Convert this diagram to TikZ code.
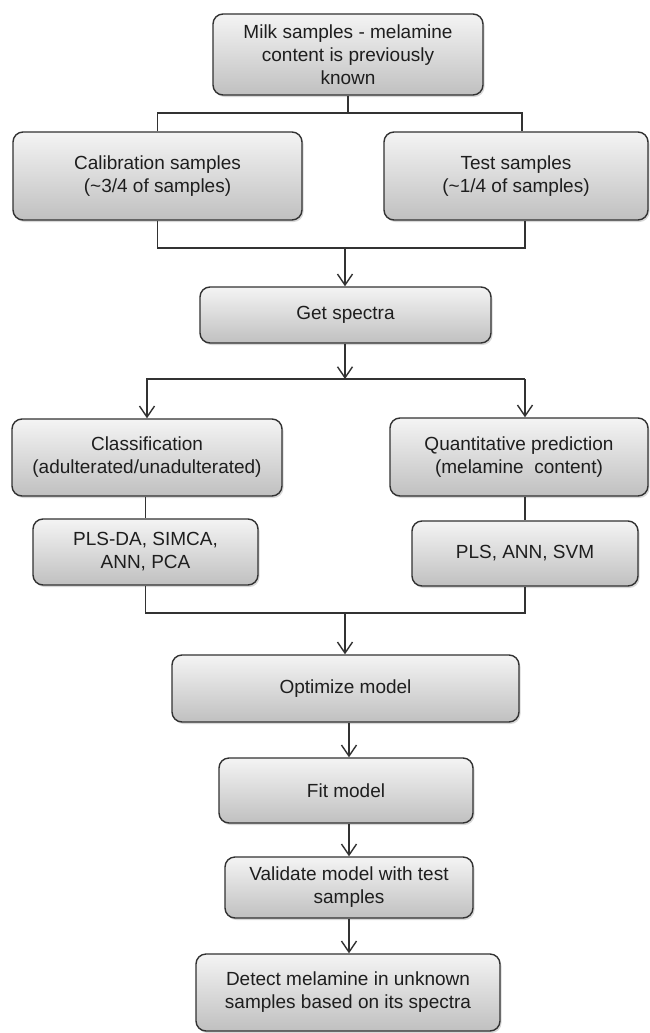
\documentclass[tikz,border=0pt]{standalone}
\usepackage{fontspec}
\setmainfont{Liberation Sans}
\usetikzlibrary{arrows.meta,shadows,calc}
\definecolor{boxtop}{RGB}{244,244,244}
\definecolor{boxbot}{RGB}{192,192,192}
\definecolor{edge}{RGB}{50,50,50}
\definecolor{ink}{RGB}{30,30,30}
\begin{document}
\begin{tikzpicture}[x=1pt,y=1pt,
  box/.style={draw=edge, line width=1.4pt, rounded corners=10pt,
    top color=boxtop, bottom color=boxbot, align=center, text=ink,
    font=\fontsize{19}{23}\selectfont, inner sep=0pt,
    drop shadow={shadow xshift=1.5pt, shadow yshift=-2pt, opacity=0.3}},
  con/.style={draw=edge, line width=1.4pt},
  arr/.style={con, -{Straight Barb[length=11pt,width=15pt]}}
]
\useasboundingbox[fill=white] (0,0) rectangle (649,-1033);

\node[box, minimum width=270pt, minimum height=81pt] (top) at (348,-54.5)
  {Milk samples - melamine\\content is previously\\known};
\node[box, minimum width=289pt, minimum height=88pt] (cal) at (157.5,-176)
  {Calibration samples\\(\textasciitilde3/4 of samples)};
\node[box, minimum width=264pt, minimum height=88pt] (tst) at (516,-176)
  {Test samples\\(\textasciitilde1/4 of samples)};
\node[box, minimum width=291pt, minimum height=56pt] (spec) at (345.5,-315)
  {Get spectra};
\node[box, minimum width=270pt, minimum height=77pt] (class) at (147,-457.5)
  {Classification\\(adulterated/unadulterated)};
\node[box, minimum width=258pt, minimum height=78pt] (quant) at (519,-457)
  {Quantitative prediction\\(melamine\ \ content)};
\node[box, minimum width=225pt, minimum height=66pt] (plsda) at (145.5,-552)
  {PLS-DA, SIMCA,\\ANN, PCA};
\node[box, minimum width=226pt, minimum height=65pt] (pls) at (525,-553.5)
  {PLS, ANN, SVM};
\node[box, minimum width=347pt, minimum height=67pt] (opt) at (345.5,-688.5)
  {Optimize model};
\node[box, minimum width=254pt, minimum height=65pt] (fit) at (346,-790.5)
  {Fit model};
\node[box, minimum width=248pt, minimum height=61pt] (val) at (349,-887.5)
  {Validate model with test\\samples};
\node[box, minimum width=304pt, minimum height=77pt] (det) at (348,-992.5)
  {Detect melamine in unknown\\samples based on its spectra};

% split after top box
\coordinate (j1) at (348,-113);
\coordinate (tin) at ([xshift=6pt]tst.north);
\draw[con] (top.south) -- (j1);
\draw[con] (cal.north) |- (j1) -| (tin);

% merge into Get spectra
\coordinate (j2) at (345,-248);
\coordinate (tout) at ([xshift=9pt]tst.south);
\draw[con] (cal.south) |- (j2) -| (tout);
\draw[arr] (j2) -- (j2 |- spec.north);

% split after Get spectra
\coordinate (j3) at (345,-379);
\coordinate (qin) at ([xshift=6pt]quant.north);
\draw[arr] (spec.south -| j3) -- (j3);
\draw[arr] (qin |- j3) -| (class.north);
\draw[arr] (qin |- j3) -- (qin);

% method boxes
\draw[con] (plsda.north |- class.south) -- (plsda.north);
\draw[con] (pls.north |- quant.south) -- (pls.north);

% merge into Optimize
\coordinate (j4) at (345,-613);
\draw[con] (plsda.south) |- (j4) -| (pls.south);
\draw[arr] (j4) -- (j4 |- opt.north);

% chain
\draw[arr] (val.north |- opt.south) -- (val.north |- fit.north);
\draw[arr] (val.north |- fit.south) -- (val.north);
\draw[arr] (val.south) -- (val.south |- det.north);
\end{tikzpicture}
\end{document}
